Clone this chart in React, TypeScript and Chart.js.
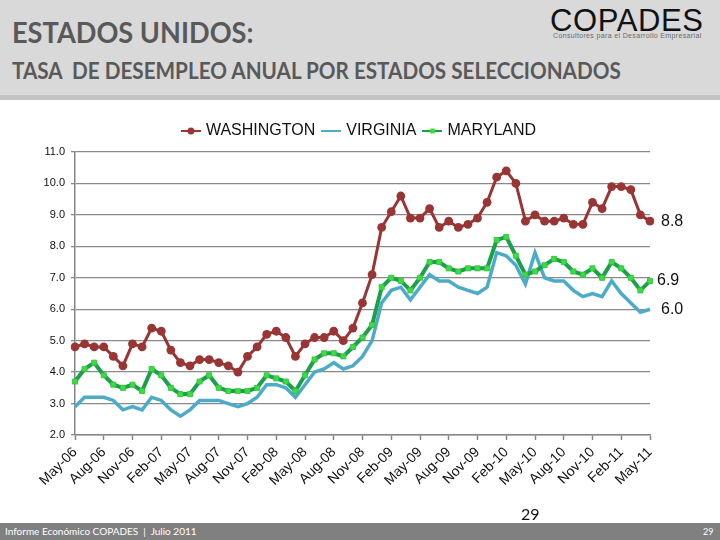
import React, { useEffect, useRef } from 'react';
import { Chart, registerables } from 'chart.js';

Chart.register(...registerables);

const categories = [
  'May-06', 'Jun-06', 'Jul-06', 'Aug-06', 'Sep-06', 'Oct-06', 'Nov-06', 'Dec-06',
  'Jan-07', 'Feb-07', 'Mar-07', 'Apr-07', 'May-07', 'Jun-07', 'Jul-07', 'Aug-07',
  'Sep-07', 'Oct-07', 'Nov-07', 'Dec-07', 'Jan-08', 'Feb-08', 'Mar-08', 'Apr-08',
  'May-08', 'Jun-08', 'Jul-08', 'Aug-08', 'Sep-08', 'Oct-08', 'Nov-08', 'Dec-08',
  'Jan-09', 'Feb-09', 'Mar-09', 'Apr-09', 'May-09', 'Jun-09', 'Jul-09', 'Aug-09',
  'Sep-09', 'Oct-09', 'Nov-09', 'Dec-09', 'Jan-10', 'Feb-10', 'Mar-10', 'Apr-10',
  'May-10', 'Jun-10', 'Jul-10', 'Aug-10', 'Sep-10', 'Oct-10', 'Nov-10', 'Dec-10',
  'Jan-11', 'Feb-11', 'Mar-11', 'Apr-11', 'May-11',
];

const washington = [
  4.8, 4.9, 4.8, 4.8, 4.5, 4.2, 4.9, 4.8, 5.4, 5.3, 4.7, 4.3, 4.2, 4.4, 4.4, 4.3,
  4.2, 4.0, 4.5, 4.8, 5.2, 5.3, 5.1, 4.5, 4.9, 5.1, 5.1, 5.3, 5.0, 5.4, 6.2, 7.1,
  8.6, 9.1, 9.6, 8.9, 8.9, 9.2, 8.6, 8.8, 8.6, 8.7, 8.9, 9.4, 10.2, 10.4, 10.0, 8.8,
  9.0, 8.8, 8.8, 8.9, 8.7, 8.7, 9.4, 9.2, 9.9, 9.9, 9.8, 9.0, 8.8,
];

const virginia = [
  2.9, 3.2, 3.2, 3.2, 3.1, 2.8, 2.9, 2.8, 3.2, 3.1, 2.8, 2.6, 2.8, 3.1, 3.1, 3.1,
  3.0, 2.9, 3.0, 3.2, 3.6, 3.6, 3.5, 3.2, 3.6, 4.0, 4.1, 4.3, 4.1, 4.2, 4.5, 5.0,
  6.2, 6.6, 6.7, 6.3, 6.7, 7.1, 6.9, 6.9, 6.7, 6.6, 6.5, 6.7, 7.8, 7.7, 7.4, 6.8,
  7.8, 7.0, 6.9, 6.9, 6.6, 6.4, 6.5, 6.4, 6.9, 6.5, 6.2, 5.9, 6.0,
];

const maryland = [
  3.7, 4.1, 4.3, 3.9, 3.6, 3.5, 3.6, 3.4, 4.1, 3.9, 3.5, 3.3, 3.3, 3.7, 3.9, 3.5,
  3.4, 3.4, 3.4, 3.5, 3.9, 3.8, 3.7, 3.4, 3.9, 4.4, 4.6, 4.6, 4.5, 4.8, 5.1, 5.5,
  6.7, 7.0, 6.9, 6.6, 7.0, 7.5, 7.5, 7.3, 7.2, 7.3, 7.3, 7.3, 8.2, 8.3, 7.7, 7.1,
  7.2, 7.4, 7.6, 7.5, 7.2, 7.1, 7.3, 7.0, 7.5, 7.3, 7.0, 6.6, 6.9,
];

const seriesNames = ['WASHINGTON', 'VIRGINIA', 'MARYLAND'];
const yMin = 2;
const yMax = 11;
const yStep = 1;

const RED = '#993534';
const BLUE = '#4babc8';
const GREEN = '#1c9f4a';
const GREEN_MARK = '#3fdc40';

function legendIcon(color: string, marker: string, fill: string) {
  const c = document.createElement('canvas');
  c.width = 20;
  c.height = 10;
  const g = c.getContext('2d')!;
  g.strokeStyle = color;
  g.lineWidth = 2;
  g.beginPath();
  g.moveTo(0, 5);
  g.lineTo(20, 5);
  g.stroke();
  if (marker === 'circle') {
    g.fillStyle = color;
    g.beginPath();
    g.arc(10, 5, 3.5, 0, Math.PI * 2);
    g.fill();
  } else if (marker === 'rect') {
    g.fillStyle = fill;
    g.fillRect(7.5, 2.5, 5, 5);
  }
  return c;
}

const endLabels = {
  id: 'endLabels',
  afterDatasetsDraw(chart: any) {
    const ctx = chart.ctx;
    ctx.save();
    ctx.font = '16px "Liberation Sans"';
    ctx.fillStyle = '#111';
    ctx.textAlign = 'left';
    ctx.textBaseline = 'middle';
    chart.data.datasets.forEach((ds: any, i: number) => {
      const meta = chart.getDatasetMeta(i);
      const el = meta.data[meta.data.length - 1];
      const v = ds.data[ds.data.length - 1];
      ctx.fillText(Number(v).toFixed(1), el.x + (ds.endLabelOffset || 10), el.y);
    });
    ctx.restore();
  },
};

function ChartView() {
  const ref = useRef<HTMLCanvasElement>(null);
  useEffect(() => {
    if (!ref.current) return;
    Chart.defaults.font.family = '"Liberation Sans", Arial, sans-serif';
    const icons = [
      legendIcon(RED, 'circle', RED),
      legendIcon(BLUE, 'none', BLUE),
      legendIcon(GREEN, 'rect', GREEN_MARK),
    ];
    const chart = new Chart(ref.current, {
      type: 'line',
      data: {
        labels: categories,
        datasets: [
          {
            label: seriesNames[0],
            data: washington,
            borderColor: RED,
            backgroundColor: RED,
            borderWidth: 3,
            pointRadius: 4.4,
            pointStyle: 'circle',
            pointBorderWidth: 0,
            pointBackgroundColor: RED,
            order: 0,
            endLabelOffset: 11,
          } as any,
          {
            label: seriesNames[1],
            data: virginia,
            borderColor: BLUE,
            backgroundColor: BLUE,
            borderWidth: 3.5,
            pointRadius: 0,
            order: 2,
            endLabelOffset: 11,
          } as any,
          {
            label: seriesNames[2],
            data: maryland,
            borderColor: GREEN,
            backgroundColor: GREEN_MARK,
            borderWidth: 4,
            pointStyle: 'rect',
            pointRadius: 3.6,
            pointBackgroundColor: GREEN_MARK,
            pointBorderColor: '#2cc040',
            pointBorderWidth: 0.8,
            order: 1,
            endLabelOffset: 7,
          } as any,
        ],
      },
      options: {
        responsive: false,
        animation: false,
        layout: { padding: { top: 14, left: 0, right: 0, bottom: 0 } },
        plugins: {
          tooltip: { enabled: false },
          title: {
            display: true,
            text: '',
            padding: 0,
            font: { size: 3, lineHeight: 1 },
            weight: 1,
          } as any,
          legend: {
            display: true,
            position: 'top',
            weight: 3000,
            labels: {
              usePointStyle: true,
              pointStyleWidth: 14,
              padding: 9,
              color: '#111',
              font: { size: 16 },
              generateLabels: () =>
                seriesNames.map((name, i) => ({
                  text: name,
                  pointStyle: icons[i],
                  fillStyle: 'rgba(0,0,0,0)',
                  strokeStyle: 'rgba(0,0,0,0)',
                  lineWidth: 0,
                  hidden: false,
                  datasetIndex: i,
                  fontColor: '#111',
                })),
            },
          } as any,
        },
        scales: {
          x: {
            type: 'category',
            offset: false,
            afterFit: (s: any) => {
              s.height = 70;
            },
            grid: {
              display: true,
              drawOnChartArea: false,
              drawTicks: true,
              tickLength: 5,
              tickWidth: 1.5,
              tickColor: (c: any) => (c.index % 3 === 0 ? '#868686' : 'rgba(0,0,0,0)'),
            },
            border: { display: true, color: '#868686', width: 1.5 },
            ticks: {
              autoSkip: false,
              maxRotation: 45,
              minRotation: 45,
              padding: 4,
              color: '#111',
              font: { size: 14 },
              callback: (_v: any, i: number) => (i % 3 === 0 ? categories[i] : ''),
            },
          },
          y: {
            min: yMin,
            max: yMax,
            afterFit: (s: any) => {
              s.width = 75;
            },
            grid: {
              color: '#8a8a8a',
              lineWidth: 1.3,
              tickLength: 4,
            },
            border: { display: true, color: '#868686', width: 1.5 },
            ticks: {
              stepSize: yStep,
              padding: 6,
              color: '#111',
              font: { size: 11 },
              callback: (v: any) => Number(v).toFixed(1),
            },
          },
          spacer: {
            type: 'linear',
            position: 'right',
            display: true,
            afterFit: (s: any) => {
              s.width = 70;
            },
            grid: { display: false, drawTicks: false },
            border: { display: false },
            ticks: { display: false },
          },
        },
      },
      plugins: [endLabels],
    });
    return () => chart.destroy();
  }, []);
  return (
    <canvas
      ref={ref}
      width={720}
      height={405}
      style={{ position: 'absolute', left: 0, top: 100, width: 720, height: 405 }}
    />
  );
}

export default function App() {
  const gray = '#595959';
  return (
    <div
      style={{
        position: 'fixed',
        left: 0,
        top: 0,
        width: 720,
        height: 540,
        background: '#fff',
        overflow: 'hidden',
      }}
    >
      <div style={{ position: 'absolute', left: 0, top: 0, width: 720, height: 95, background: '#d9d9d9' }} />
      <div style={{ position: 'absolute', left: 0, top: 95, width: 720, height: 5, background: '#c4c4c4' }} />
      <div
        style={{
          position: 'absolute',
          left: 12,
          top: 18,
          fontFamily: 'Lato, sans-serif',
          fontWeight: 700,
          fontSize: 28,
          lineHeight: '28px',
          color: gray,
          whiteSpace: 'pre',
          transform: 'scaleX(0.97)',
          transformOrigin: 'left top',
        }}
      >
        ESTADOS UNIDOS:
      </div>
      <div
        style={{
          position: 'absolute',
          left: 12,
          top: 59.5,
          fontFamily: 'Lato, sans-serif',
          fontWeight: 700,
          fontSize: 22,
          lineHeight: '22px',
          color: gray,
          whiteSpace: 'pre',
          transform: 'scaleX(0.94)',
          transformOrigin: 'left top',
        }}
      >
        {'TASA  DE DESEMPLEO ANUAL POR ESTADOS SELECCIONADOS'}
      </div>
      <div
        style={{
          position: 'absolute',
          left: 550,
          top: 5,
          fontFamily: '"Liberation Sans", Arial, sans-serif',
          fontSize: 31,
          lineHeight: '31px',
          color: '#111',
          whiteSpace: 'pre',
          letterSpacing: 0.6,
        }}
      >
        COPADES
      </div>
      <div
        style={{
          position: 'absolute',
          left: 553,
          top: 32,
          fontFamily: '"Liberation Sans", Arial, sans-serif',
          fontSize: 7,
          lineHeight: '7px',
          color: '#6a6a6a',
          whiteSpace: 'pre',
          letterSpacing: 0.35,
        }}
      >
        Consultores para el Desarrollo Empresarial
      </div>
      <ChartView />
      <div
        style={{
          position: 'absolute',
          left: 521,
          top: 505,
          fontFamily: 'Lato, sans-serif',
          fontSize: 16,
          lineHeight: '18px',
          color: '#111',
        }}
      >
        29
      </div>
      <div style={{ position: 'absolute', left: 0, top: 523, width: 720, height: 17, background: '#808080' }} />
      <div
        style={{
          position: 'absolute',
          left: 5,
          top: 525,
          fontFamily: 'Lato, sans-serif',
          fontSize: 10,
          lineHeight: '13px',
          color: '#fff',
          whiteSpace: 'pre',
        }}
      >
        {'Informe Económico COPADES  |  Julio 2011'}
      </div>
      <div
        style={{
          position: 'absolute',
          left: 703,
          top: 525,
          fontFamily: 'Lato, sans-serif',
          fontSize: 9,
          lineHeight: '13px',
          color: '#fff',
        }}
      >
        29
      </div>
    </div>
  );
}
